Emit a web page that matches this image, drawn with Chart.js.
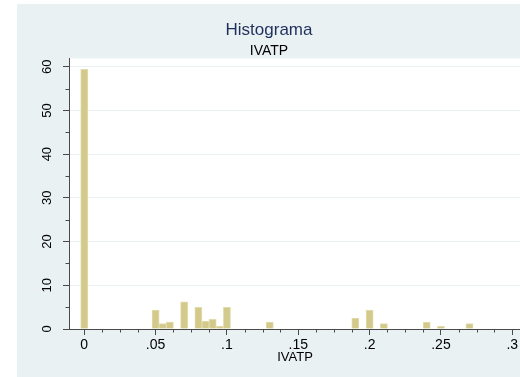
<!DOCTYPE html>
<html>
<head>
<meta charset="utf-8">
<title>Histograma IVATP</title>
<script src="https://cdn.jsdelivr.net/npm/chart.js@4.4.1/dist/chart.umd.min.js"></script>
<style>
    html, body { margin: 0; padding: 0; background: #fff; overflow: hidden; width: 520px; height: 377px; }
    #wrap { position: absolute; left: 17px; top: 4px; width: 556px; height: 373px; background: #eaf1f3; }
</style>
</head>
<body>
<div id="wrap"><canvas id="histChart" width="556" height="373"></canvas></div>
<script>
// Histogram of IVATP (percent of observations per bin, bin width .005)
const binCenters = [0, 0.05, 0.055, 0.06, 0.07, 0.08, 0.085, 0.09, 0.095, 0.1,
                    0.13, 0.19, 0.2, 0.21, 0.24, 0.25, 0.27];
const percents = [59.4, 4.3, 1.25, 1.6, 6.2, 4.95, 1.8, 2.2, 0.6, 4.95,
                  1.6, 2.5, 4.35, 1.25, 1.6, 0.6, 1.25];

const xTickValues = [0, 0.05, 0.1, 0.15, 0.2, 0.25, 0.3];
const xTickLabels = ['0', '.05', '.1', '.15', '.2', '.25', '.3'];
const yTickValues = [0, 10, 20, 30, 40, 50, 60];
const yTickLabels = ['0', '10', '20', '30', '40', '50', '60'];

const FONT = '"Liberation Sans", Arial, Helvetica, sans-serif';
const AXIS_COLOR = '#4a4a4a';

// white plot region like Stata's plotregion
const plotBackground = {
    id: 'plotBackground',
    beforeDraw(chart) {
        const a = chart.chartArea;
        const ctx = chart.ctx;
        ctx.save();
        ctx.fillStyle = '#ffffff';
        ctx.fillRect(a.left, a.top, a.right - a.left, a.bottom - a.top);
        ctx.restore();
    }
};

// minor ticks and the rotated y labels
const stataAxes = {
    id: 'stataAxes',
    afterDraw(chart) {
        const ctx = chart.ctx;
        const xs = chart.scales.x;
        const ys = chart.scales.y;
        const a = chart.chartArea;
        ctx.save();
        ctx.strokeStyle = AXIS_COLOR;
        ctx.lineWidth = 1;
        ctx.beginPath();
        for (let i = 1; i < 24; i++) {
            if (i % 4 === 0) continue;
            const px = Math.round(xs.getPixelForValue(i * 0.0125)) + 0.5;
            ctx.moveTo(px, a.bottom);
            ctx.lineTo(px, a.bottom + 3.5);
        }
        for (let v = 5; v < 60; v += 10) {
            const py = Math.round(ys.getPixelForValue(v)) + 0.5;
            ctx.moveTo(a.left, py);
            ctx.lineTo(a.left - 3.5, py);
        }
        ctx.stroke();

        ctx.fillStyle = '#000';
        ctx.font = '13px ' + FONT;
        ctx.textAlign = 'center';
        ctx.textBaseline = 'middle';
        yTickValues.forEach((v, i) => {
            ctx.save();
            ctx.translate(a.left - 22, ys.getPixelForValue(v));
            ctx.rotate(-Math.PI / 2);
            ctx.fillText(yTickLabels[i], 0, 0);
            ctx.restore();
        });
        ctx.restore();
    }
};

const ctx = document.getElementById('histChart').getContext('2d');
const histChart = new Chart(ctx, {
    type: 'bar',
    data: {
        datasets: [{
            label: 'Percent',
            data: binCenters.map((x, i) => ({ x: x, y: percents[i] })),
            backgroundColor: '#d2c98b',
            borderColor: '#e2dcac',
            borderWidth: 1,
            borderSkipped: 'bottom',
            categoryPercentage: 1.0,
            barPercentage: 1.0
        }]
    },
    options: {
        responsive: false,
        animation: false,
        layout: { padding: { left: 0, right: 52, top: 0, bottom: 0 } },
        plugins: {
            legend: { display: false },
            tooltip: { enabled: false },
            title: {
                display: true,
                text: 'Histograma',
                color: '#1f2f5c',
                font: { family: FONT, size: 17, weight: 'normal', lineHeight: 1.2 },
                padding: { top: 16, bottom: 0 }
            },
            subtitle: {
                display: true,
                text: 'IVATP',
                color: '#000',
                font: { family: FONT, size: 14, weight: 'normal', lineHeight: 1.0 },
                padding: { top: 4, bottom: 0 }
            }
        },
        scales: {
            x: {
                type: 'linear',
                offset: false,
                min: -0.0107,
                max: 0.3061,
                afterBuildTicks: (scale) => { scale.ticks = xTickValues.map(v => ({ value: v })); },
                afterFit: (scale) => { scale.height = 48; },
                ticks: {
                    autoSkip: false,
                    maxRotation: 0,
                    padding: 2,
                    color: '#000',
                    font: { family: FONT, size: 14 },
                    callback: (v) => xTickLabels[xTickValues.indexOf(v)]
                },
                grid: { offset: false, drawOnChartArea: false, tickLength: 6, tickColor: AXIS_COLOR },
                border: { color: AXIS_COLOR, width: 1 },
                title: {
                    display: true,
                    text: 'IVATP',
                    color: '#000',
                    font: { family: FONT, size: 13 },
                    padding: { top: 0, bottom: 12 }
                }
            },
            y: {
                min: 0,
                max: 61.9,
                afterBuildTicks: (scale) => { scale.ticks = yTickValues.map(v => ({ value: v })); },
                afterFit: (scale) => { scale.width = 52; },
                ticks: { display: false },
                grid: { color: '#eaf1f3', tickLength: 6, tickColor: AXIS_COLOR },
                border: { color: AXIS_COLOR, width: 1 }
            }
        }
    },
    plugins: [plotBackground, stataAxes]
});
</script>
</body>
</html>
